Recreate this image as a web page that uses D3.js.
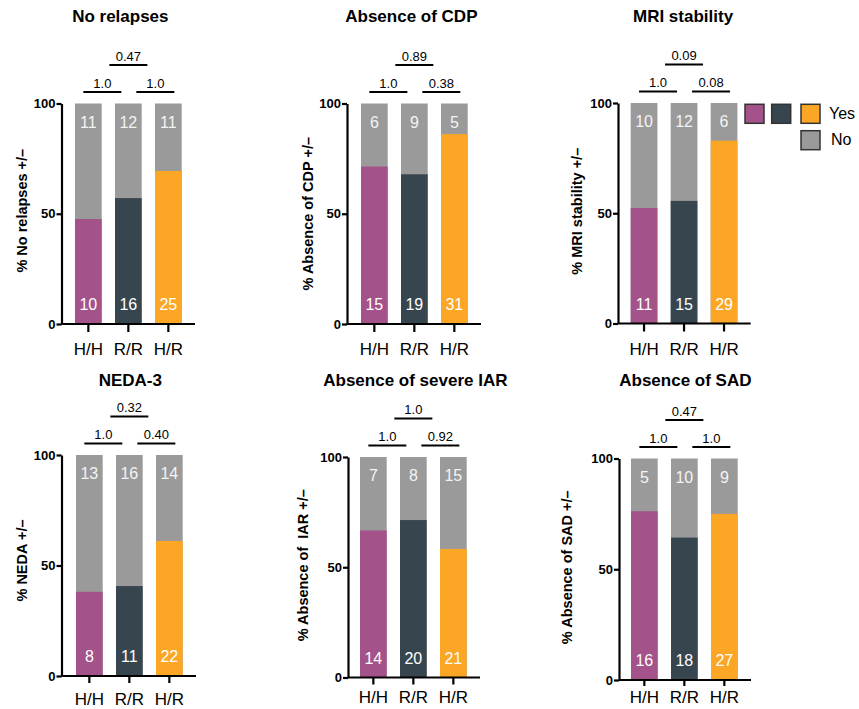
<!DOCTYPE html>
<html>
<head>
<meta charset="utf-8">
<script src="https://cdn.jsdelivr.net/npm/d3@7"></script>
<style>
  html, body { margin: 0; padding: 0; background: #fff; }
  svg { display: block; font-family: "Liberation Sans", Arial, Helvetica, sans-serif; }
</style>
</head>
<body>
<svg id="chart" width="859" height="709"></svg>
<script>
// ---------- DATA ----------
const categories = ["H/H", "R/R", "H/R"];
const panelTitles = ["No relapses", "Absence of CDP", "MRI stability", "NEDA-3", "Absence of severe IAR", "Absence of SAD"];
const yAxisTitles = ["% No relapses +/\u2013", "% Absence of CDP +/\u2013", "% MRI stability +/\u2013", "% NEDA +/\u2013", "% Absence of \u00a0IAR +/\u2013", "% Absence of SAD +/\u2013"];
const yesCounts = [[10, 16, 25], [15, 19, 31], [11, 15, 29], [8, 11, 22], [14, 20, 21], [16, 18, 27]];
const noCounts  = [[11, 12, 11], [6, 9, 5], [10, 12, 6], [13, 16, 14], [7, 8, 15], [5, 10, 9]];
const yesPercent = [[47.6, 57.1, 69.4], [71.4, 67.9, 86.1], [52.4, 55.6, 82.9], [38.1, 40.7, 61.1], [66.7, 71.4, 58.3], [76.2, 64.3, 75.0]];
const pLowerLeft  = ["1.0", "1.0", "1.0", "1.0", "1.0", "1.0"];
const pLowerRight = ["1.0", "0.38", "0.08", "0.40", "0.92", "1.0"];
const pUpper      = ["0.47", "0.89", "0.09", "0.32", "1.0", "0.47"];
const yTicks = [0, 50, 100];
const legendYesLabel = "Yes";
const legendNoLabel = "No";

// ---------- LAYOUT / STYLE ----------
const groupColors = ["#a4528a", "#37464e", "#fca625"];
const noColor = "#9a9a9a";
const layout = [
  { x: 61.5, barStart: 75,    yTop: 103.5, yBot: 324,   titleY: 22,  titleDx: -8, labelDx: -35, labelDy: -3, tick: 8, lab: 31 },
  { x: 347,  barStart: 361,   yTop: 103.5, yBot: 324,   titleY: 22,  titleDx: -3, labelDx: -34, labelDy: 0,  tick: 8, lab: 31 },
  { x: 618,  barStart: 630.7, yTop: 103,   yBot: 323.5, titleY: 22,  titleDx: -1, labelDx: -36, labelDy: -2, tick: 8, lab: 31 },
  { x: 61.5, barStart: 76,    yTop: 455,   yBot: 676,   titleY: 386, titleDx: 1,  labelDx: -35, labelDy: -5, tick: 7, lab: 28.5 },
  { x: 348,  barStart: 360,   yTop: 457,   yBot: 677.5, titleY: 386, titleDx: 2,  labelDx: -40, labelDy: -2, tick: 7, lab: 25.5 },
  { x: 619,  barStart: 631,   yTop: 458.5, yBot: 680,   titleY: 386, titleDx: 1,  labelDx: -47, labelDy: -2, tick: 6, lab: 23 }
];
const step = 40, bandW = 26.7;

const svg = d3.select("#chart");

layout.forEach((L, i) => {
  const g = svg.append("g");
  const rangeStart = L.barStart - (step - bandW);
  const x = d3.scaleBand()
    .domain(categories)
    .range([rangeStart, rangeStart + step * 3 + (step - bandW)])
    .paddingInner(1 - bandW / step)
    .paddingOuter((step - bandW) / step);
  const y = d3.scaleLinear().domain([0, 100]).range([L.yBot, L.yTop]);
  const cx = c => x(c) + x.bandwidth() / 2;

  // gray (No) full bars
  g.selectAll("rect.no").data(categories).enter().append("rect")
    .attr("x", d => x(d)).attr("width", x.bandwidth())
    .attr("y", y(100)).attr("height", y(0) - y(100))
    .attr("fill", noColor);
  // Yes bars
  g.selectAll("rect.yes").data(categories).enter().append("rect")
    .attr("x", d => x(d)).attr("width", x.bandwidth())
    .attr("y", (d, j) => y(yesPercent[i][j]))
    .attr("height", (d, j) => y(0) - y(yesPercent[i][j]))
    .attr("fill", (d, j) => groupColors[j]);

  // count labels
  g.selectAll("text.nolab").data(categories).enter().append("text")
    .attr("x", d => cx(d)).attr("y", y(100) + 24)
    .attr("text-anchor", "middle").attr("font-size", 16).attr("fill", "#f4f4f4")
    .text((d, j) => noCounts[i][j]);
  g.selectAll("text.yeslab").data(categories).enter().append("text")
    .attr("x", d => cx(d)).attr("y", y(0) - 14)
    .attr("text-anchor", "middle").attr("font-size", 16).attr("fill", "#ffffff")
    .text((d, j) => yesCounts[i][j]);

  // axes
  const ya = g.append("g").attr("transform", `translate(${L.x},0)`)
    .call(d3.axisLeft(y).tickValues(yTicks).tickSize(5).tickSizeOuter(0).tickPadding(1));
  ya.select(".domain").attr("stroke", "#000").attr("stroke-width", 2.2);
  ya.selectAll(".tick line").attr("stroke", "#000").attr("stroke-width", 2.2);
  ya.selectAll(".tick text").attr("font-size", 13).attr("font-weight", "bold").attr("fill", "#000")
    .attr("font-family", "'Liberation Sans', Arial, sans-serif");

  const xa = g.append("g").attr("transform", `translate(0,${L.yBot})`)
    .call(d3.axisBottom(x).tickSize(L.tick).tickSizeOuter(0));
  xa.select(".domain").attr("stroke", "#000").attr("stroke-width", 2.2)
    .attr("d", `M${L.x},0H${x.range()[1]}`);
  xa.selectAll(".tick line").attr("stroke", "#000").attr("stroke-width", 2.2);
  xa.selectAll(".tick text").attr("font-size", 17).attr("fill", "#000")
    .attr("y", L.lab).attr("dy", 0)
    .attr("font-family", "'Liberation Sans', Arial, sans-serif");

  // title
  g.append("text")
    .attr("x", (x.range()[0] + x.range()[1]) / 2 + L.titleDx).attr("y", L.titleY)
    .attr("text-anchor", "middle").attr("font-size", 17).attr("font-weight", "bold")
    .text(panelTitles[i]);

  // y axis title
  g.append("text")
    .attr("transform", `translate(${L.x + L.labelDx},${(L.yTop + L.yBot) / 2 + L.labelDy}) rotate(-90)`)
    .attr("text-anchor", "middle").attr("font-size", 14.5).attr("font-weight", "bold")
    .text(yAxisTitles[i]);

  // significance brackets
  const brackets = [
    { x1: cx(categories[0]) - 5, x2: cx(categories[1]) - 7, yy: y(100) - 11.5, t: pLowerLeft[i] },
    { x1: cx(categories[1]) + 8, x2: cx(categories[2]) + 6, yy: y(100) - 11.5, t: pLowerRight[i] },
    { x1: cx(categories[1]) - 19, x2: cx(categories[1]) + 19, yy: y(100) - 38.5, t: pUpper[i] }
  ];
  brackets.forEach(b => {
    g.append("line").attr("x1", b.x1).attr("x2", b.x2).attr("y1", b.yy).attr("y2", b.yy)
      .attr("stroke", "#000").attr("stroke-width", 2.2);
    g.append("text").attr("x", (b.x1 + b.x2) / 2).attr("y", b.yy - 4.5)
      .attr("text-anchor", "middle").attr("font-size", 13).text(b.t);
  });

  // legend next to the third panel
  if (i === 2) {
    const lg = svg.append("g");
    const lx = L.x + 127, ly = L.yTop + 1.3;
    const sw = 19;
    const sx = [lx, lx + 26.7, lx + 56];
    groupColors.forEach((c, k) => {
      lg.append("rect").attr("x", sx[k]).attr("y", ly).attr("width", sw).attr("height", sw)
        .attr("fill", c).attr("stroke", "#333").attr("stroke-width", 1.5);
    });
    lg.append("rect").attr("x", sx[2]).attr("y", ly + 26.4).attr("width", sw).attr("height", sw)
      .attr("fill", noColor).attr("stroke", "#333").attr("stroke-width", 1.5);
    lg.append("text").attr("x", sx[2] + 28).attr("y", ly + 14.5).attr("font-size", 16).text(legendYesLabel);
    lg.append("text").attr("x", sx[2] + 30).attr("y", ly + 40.5).attr("font-size", 16).text(legendNoLabel);
  }
});
</script>
</body>
</html>
